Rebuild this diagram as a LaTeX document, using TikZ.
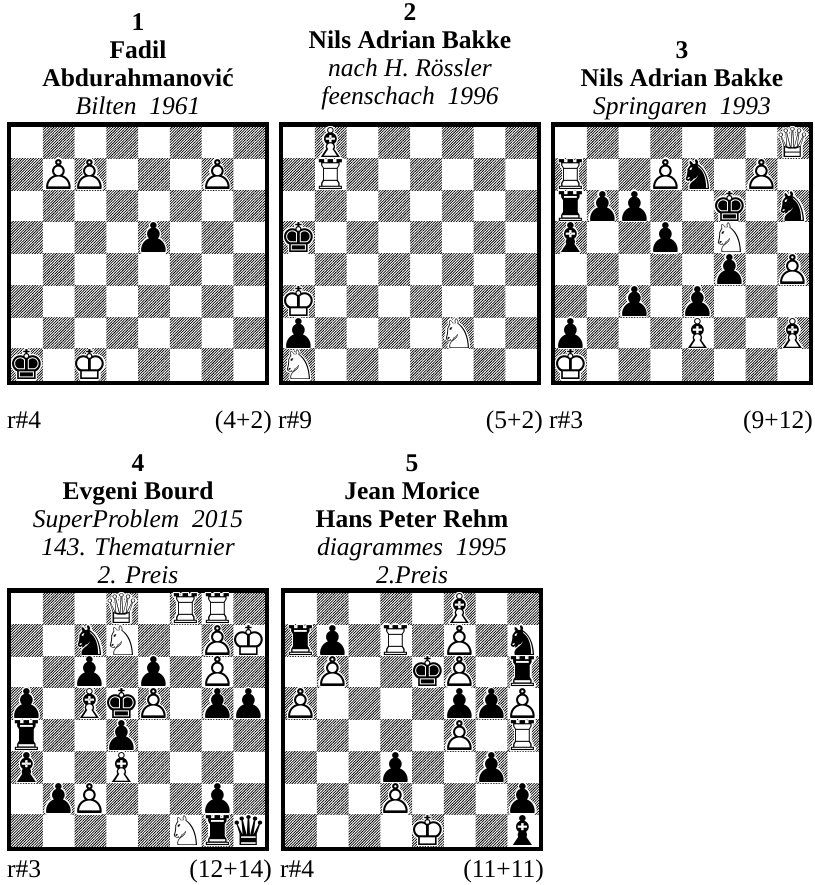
\documentclass[tikz,border=0pt]{standalone}
\usepackage{fontspec}
\setmainfont{Liberation Serif}
\newfontfamily\chessfont{DejaVu Sans}
\usetikzlibrary{patterns.meta}

\def\gwK{♔}\def\gwQ{♕}\def\gwR{♖}\def\gwB{♗}\def\gwN{♘}\def\gwP{♙}
\def\gbK{♚}\def\gbQ{♛}\def\gbR{♜}\def\gbB{♝}\def\gbN{♞}\def\gbP{♟}
\newcommand\sqsz{31.75}

% white halo made of shifted copies of the filled glyph, all in one box
\newcommand\halo[1]{%
  \rlap{\kern1.3pt#1}\rlap{\kern-1.3pt#1}%
  \rlap{\raisebox{1.3pt}{#1}}\rlap{\raisebox{-1.3pt}{#1}}%
  \rlap{\kern0.9pt\raisebox{0.9pt}{#1}}\rlap{\kern-0.9pt\raisebox{0.9pt}{#1}}%
  \rlap{\kern0.9pt\raisebox{-0.9pt}{#1}}\rlap{\kern-0.9pt\raisebox{-0.9pt}{#1}}%
  \rlap{#1}}

\tikzset{
  piecefont/.style={font=\chessfont\fontsize{41}{41}\selectfont, inner sep=0pt, anchor=center},
  darksq/.style={pattern={Lines[angle=45,distance=1.9pt,line width=0.75pt]}},
  boardframe/.style={line width=4.4pt},
  headbold/.style={font=\fontsize{25.5}{28}\selectfont\bfseries, anchor=base, inner sep=0pt},
  headsrc/.style={font=\fontsize{25.5}{28}\selectfont\itshape, anchor=base, inner sep=0pt},
  stip/.style={font=\fontsize{25.5}{28}\selectfont, anchor=base west, inner sep=0pt},
  pcount/.style={font=\fontsize{25.5}{28}\selectfont, anchor=base east, inner sep=0pt},
}

\newcommand\DrawBoard{%
  \foreach \i in {1,...,8}{%
    \foreach \j in {1,...,8}{%
      \pgfmathtruncatemacro\parity{mod(\i+\j,2)}%
      \ifnum\parity=0\relax
        \fill[darksq] ({(\i-1)*\sqsz},{(\j-9)*\sqsz}) rectangle ++(\sqsz,\sqsz);
      \fi}}%
  \draw[boardframe] (-2.2,2.2) rectangle ({8*\sqsz+2.2},{-8*\sqsz-2.2});
}

\newcommand\PutPiece[4]{%
  \pgfmathsetmacro\px{(#3-0.5)*\sqsz}%
  \pgfmathsetmacro\py{(#4-8.5)*\sqsz}%
  \node[piecefont] at (\px,\py)
    {{\color{white}\halo{\csname gb#2\endcsname}}\csname g#1#2\endcsname};%
}

\begin{document}
\begin{tikzpicture}[x=1pt,y=1pt]
\useasboundingbox (0,0) rectangle (814,-885);

% ---------- Diagram 1 ----------
\node[headbold] (h1a) at (138,-31) {1};
\node[headbold] (h1b) at (138,-59) {Fadil};
\node[headbold] (h1c) at (138,-87) {Abdurahmanović};
\node[headsrc]  (h1d) at (138,-115) {Bilten~~1961};
\begin{scope}[shift={(11,-126.7)}]
  \DrawBoard
  \foreach \pcol/\ptyp/\pfil/\prnk in {w/P/2/7,w/P/3/7,w/P/7/7,w/K/3/1,b/K/1/1,b/P/5/5}
    {\PutPiece{\pcol}{\ptyp}{\pfil}{\prnk}}
\end{scope}
\node[stip]   (s1) at (7,-428) {r\#4};
\node[pcount] (c1) at (272,-428) {(4+2)};

% ---------- Diagram 2 ----------
\node[headbold] (h2a) at (410,-21) {2};
\node[headbold] (h2b) at (410,-49) {Nils Adrian Bakke};
\node[headsrc]  (h2c) at (410,-77) {nach H. Rössler};
\node[headsrc]  (h2d) at (410,-105) {feenschach~~1996};
\begin{scope}[shift={(283,-126.7)}]
  \DrawBoard
  \foreach \pcol/\ptyp/\pfil/\prnk in {w/B/2/8,w/R/2/7,w/K/1/3,w/N/6/2,w/N/1/1,b/K/1/5,b/P/1/2}
    {\PutPiece{\pcol}{\ptyp}{\pfil}{\prnk}}
\end{scope}
\node[stip]   (s2) at (278,-428) {r\#9};
\node[pcount] (c2) at (543,-428) {(5+2)};

% ---------- Diagram 3 ----------
\node[headbold] (h3a) at (682,-59) {3};
\node[headbold] (h3b) at (682,-87) {Nils Adrian Bakke};
\node[headsrc]  (h3c) at (682,-115) {Springaren~~1993};
\begin{scope}[shift={(555,-126.7)}]
  \DrawBoard
  \foreach \pcol/\ptyp/\pfil/\prnk in {w/Q/8/8,w/R/1/7,w/P/4/7,w/P/7/7,w/N/6/5,w/P/8/4,w/B/5/2,w/B/8/2,w/K/1/1,
      b/N/5/7,b/R/1/6,b/P/2/6,b/P/3/6,b/K/6/6,b/N/8/6,b/B/1/5,b/P/4/5,b/P/6/4,b/P/3/3,b/P/5/3,b/P/1/2}
    {\PutPiece{\pcol}{\ptyp}{\pfil}{\prnk}}
\end{scope}
\node[stip]   (s3) at (549,-428) {r\#3};
\node[pcount] (c3) at (813,-428) {(9+12)};

% ---------- Diagram 4 ----------
\node[headbold] (h4a) at (138,-471) {4};
\node[headbold] (h4b) at (138,-499) {Evgeni Bourd};
\node[headsrc]  (h4c) at (138,-527) {SuperProblem~~2015};
\node[headsrc]  (h4d) at (138,-555) {143. Thematurnier};
\node[headsrc]  (h4e) at (138,-583) {2. Preis};
\begin{scope}[shift={(11,-592.5)}]
  \DrawBoard
  \foreach \pcol/\ptyp/\pfil/\prnk in {w/Q/4/8,w/R/6/8,w/R/7/8,w/N/4/7,w/P/7/7,w/K/8/7,w/P/7/6,w/B/3/5,w/P/5/5,w/B/4/3,w/P/3/2,w/N/6/1,
      b/N/3/7,b/P/3/6,b/P/5/6,b/P/1/5,b/K/4/5,b/P/7/5,b/P/8/5,b/R/1/4,b/P/4/4,b/B/1/3,b/P/2/2,b/P/7/2,b/R/7/1,b/Q/8/1}
    {\PutPiece{\pcol}{\ptyp}{\pfil}{\prnk}}
\end{scope}
\node[stip]   (s4) at (7,-877) {r\#3};
\node[pcount] (c4) at (272,-877) {(12+14)};

% ---------- Diagram 5 ----------
\node[headbold] (h5a) at (412,-471) {5};
\node[headbold] (h5b) at (412,-499) {Jean Morice};
\node[headbold] (h5c) at (412,-527) {Hans Peter Rehm};
\node[headsrc]  (h5d) at (412,-555) {diagrammes~~1995};
\node[headsrc]  (h5e) at (412,-583) {2.Preis};
\begin{scope}[shift={(285,-592.5)}]
  \DrawBoard
  \foreach \pcol/\ptyp/\pfil/\prnk in {w/B/6/8,w/R/4/7,w/P/6/7,w/P/2/6,w/P/6/6,w/P/1/5,w/P/8/5,w/P/6/4,w/R/8/4,w/P/4/2,w/K/5/1,
      b/R/1/7,b/P/2/7,b/N/8/7,b/K/5/6,b/R/8/6,b/P/6/5,b/P/7/5,b/P/4/3,b/P/7/3,b/P/8/2,b/B/8/1}
    {\PutPiece{\pcol}{\ptyp}{\pfil}{\prnk}}
\end{scope}
\node[stip]   (s5) at (280,-877) {r\#4};
\node[pcount] (c5) at (544,-877) {(11+11)};
\end{tikzpicture}
\end{document}
